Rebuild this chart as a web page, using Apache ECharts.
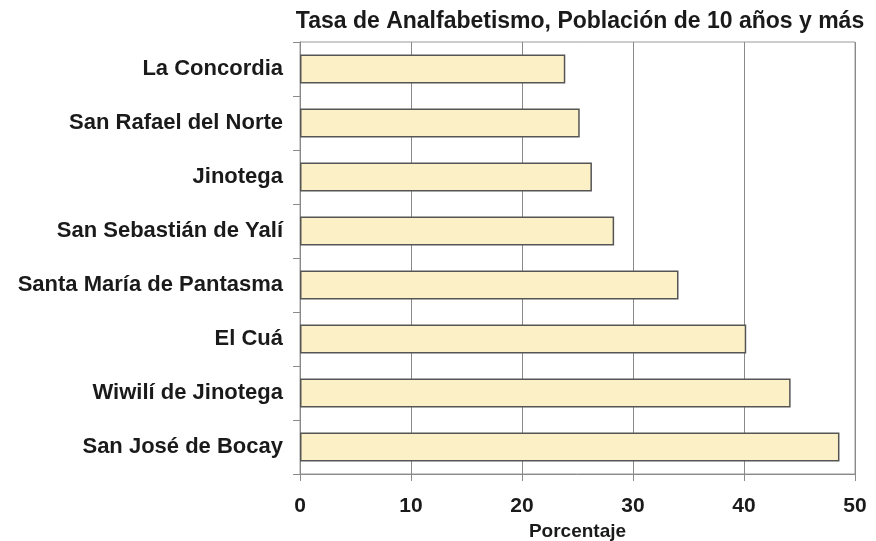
<!DOCTYPE html>
<html>
<head>
<meta charset="utf-8">
<script src="https://cdn.jsdelivr.net/npm/echarts@6/dist/echarts.min.js"></script>
<style>
  html, body { margin: 0; padding: 0; background: #fff; }
  #chart { width: 876px; height: 541px; }
</style>
</head>
<body>
<div id="chart"></div>
<script>
// municipios, de arriba hacia abajo
const municipios = [
  'La Concordia',
  'San Rafael del Norte',
  'Jinotega',
  'San Sebastián de Yalí',
  'Santa María de Pantasma',
  'El Cuá',
  'Wiwilí de Jinotega',
  'San José de Bocay'
];
// tasa de analfabetismo (%)
const tasas = [23.9, 25.2, 26.3, 28.3, 34.1, 40.2, 44.2, 48.6];
const ticksX = [0, 10, 20, 30, 40, 50];

const chart = echarts.init(document.getElementById('chart'));
const fuente = 'Liberation Sans, Arial, sans-serif';

const option = {
  backgroundColor: '#fff',
  title: {
    text: 'Tasa de Analfabetismo, Población de 10 años y más',
    left: 575,
    textAlign: 'center',
    top: 5,
    textStyle: { fontFamily: fuente, fontSize: 23, fontWeight: 'bold', color: '#1a1a1a' }
  },
  grid: {
    left: 300, top: 42, width: 555, height: 432,
    outerBoundsMode: 'none',
    containLabel: false,
    show: true, borderColor: '#9a9a9a', borderWidth: 1
  },
  xAxis: {
    type: 'value',
    min: ticksX[0],
    max: ticksX[ticksX.length - 1],
    interval: 10,
    name: 'Porcentaje',
    nameLocation: 'middle',
    nameGap: 48,
    nameTextStyle: { fontFamily: fuente, fontSize: 19, fontWeight: 'bold', color: '#1a1a1a' },
    axisLine: { show: true, lineStyle: { color: '#8a8a8a', width: 1 } },
    axisTick: { show: true, length: 7, lineStyle: { color: '#8a8a8a' } },
    axisLabel: { margin: 22, fontFamily: fuente, fontSize: 21, fontWeight: 'bold', color: '#1a1a1a' },
    splitLine: { show: true, lineStyle: { color: '#8a8a8a', width: 1 } }
  },
  yAxis: {
    type: 'category',
    inverse: true,
    data: municipios,
    axisLine: { show: true, lineStyle: { color: '#8a8a8a', width: 1 } },
    axisTick: { show: true, length: 7, lineStyle: { color: '#8a8a8a' } },
    axisLabel: { margin: 17, fontFamily: fuente, fontSize: 22, fontWeight: 'bold', color: '#1a1a1a' }
  },
  series: [{
    type: 'bar',
    data: tasas,
    barWidth: 29,
    itemStyle: { color: '#fcf1c6', borderColor: '#555', borderWidth: 1.5 },
    silent: true
  }]
};
chart.setOption(option);
</script>
</body>
</html>
